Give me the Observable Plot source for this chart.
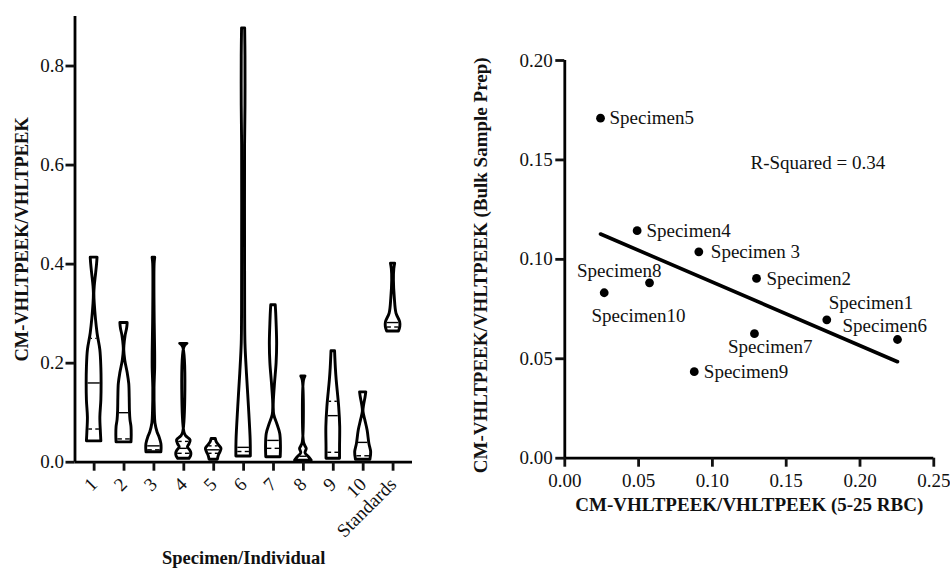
<!DOCTYPE html>
<html>
<head>
<meta charset="utf-8">
<script src="https://cdn.jsdelivr.net/npm/d3@7"></script>
<script src="https://cdn.jsdelivr.net/npm/@observablehq/plot@0.6"></script>
<style>
  html, body { margin: 0; padding: 0; background: #fff; }
  #wrap { position: relative; width: 950px; height: 572px; background: #fff; overflow: hidden;
          font-family: "Liberation Serif", "Times New Roman", Times, serif; }
  #left, #right { position: absolute; top: 0; }
  #left { left: 0; }
  #right { left: 470px; }
  #wrap svg text { font-family: "Liberation Serif", "Times New Roman", Times, serif !important; }
  #wrap svg g[aria-label$="-axis tick"] { stroke-width: 2.8px; }
</style>
</head>
<body>
<div id="wrap"><div id="left"></div><div id="right"></div></div>
<script>
// ---------------- LEFT PANEL DATA (violin plot) ----------------
const categories = ["1", "2", "3", "4", "5", "6", "7", "8", "9", "10", "Standards"];

// Each violin: [value, relative density (1 = widest)]
const violin1 = [[0.413,0.44],[0.40,0.38],[0.38,0.25],[0.355,0.08],[0.34,0.03],[0.32,0.08],[0.26,0.44],[0.226,0.8],[0.19,0.93],[0.16,0.96],[0.125,0.93],[0.09,0.8],[0.06,0.87],[0.042,0.93]];
const violin2 = [[0.281,0.47],[0.27,0.4],[0.255,0.2],[0.235,0.05],[0.226,0.03],[0.205,0.16],[0.18,0.47],[0.158,0.67],[0.13,0.73],[0.104,0.76],[0.085,0.83],[0.071,0.96],[0.055,0.99],[0.040,0.96]];
const violin3 = [[0.413,0.17],[0.40,0.09],[0.30,0.09],[0.22,0.16],[0.19,0.16],[0.15,0.08],[0.10,0.12],[0.078,0.2],[0.06,0.47],[0.05,0.73],[0.037,0.96],[0.028,0.99],[0.020,0.96]];
const violin4 = [[0.239,0.47],[0.232,0.08],[0.06,0.08],[0.052,0.33],[0.044,0.87],[0.036,0.73],[0.030,0.53],[0.024,0.8],[0.018,0.97],[0.012,0.93],[0.007,0.73]];
const violin5 = [[0.047,0.27],[0.040,0.4],[0.033,0.73],[0.027,1.0],[0.020,0.87],[0.0135,0.67],[0.005,0.53]];
const violin6 = [[0.876,0.2],[0.82,0.24],[0.72,0.24],[0.64,0.19],[0.40,0.19],[0.30,0.2],[0.239,0.24],[0.179,0.43],[0.111,0.69],[0.044,0.91],[0.0115,0.93]];
const violin7 = [[0.317,0.29],[0.30,0.35],[0.28,0.4],[0.239,0.47],[0.20,0.4],[0.16,0.2],[0.125,0.05],[0.111,0.03],[0.095,0.1],[0.075,0.53],[0.057,0.87],[0.030,0.96],[0.010,0.93]];
const violin8 = [[0.173,0.27],[0.165,0.08],[0.04,0.08],[0.032,0.27],[0.027,0.43],[0.018,0.27],[0.010,0.73],[0.003,1.07]];
const violin9 = [[0.224,0.23],[0.19,0.33],[0.165,0.44],[0.111,0.76],[0.071,0.89],[0.030,0.87],[0.007,0.87]];
const violin10 = [[0.141,0.4],[0.13,0.3],[0.115,0.12],[0.102,0.04],[0.085,0.27],[0.064,0.57],[0.037,0.8],[0.020,1.03],[0.005,0.93]];
const violinStd = [[0.401,0.27],[0.39,0.16],[0.367,0.11],[0.330,0.23],[0.300,0.44],[0.283,0.91],[0.273,0.93],[0.264,0.76]];
const violins = [violin1, violin2, violin3, violin4, violin5, violin6, violin7, violin8, violin9, violin10, violinStd];

const lowerQuartiles = [0.067, 0.047, 0.025, 0.018, 0.018, 0.0216, 0.028, 0.005, 0.020, 0.013, 0.273];
const medians        = [0.160, 0.100, 0.033, 0.028, 0.025, 0.030, 0.044, 0.012, 0.094, 0.040, 0.282];
const upperQuartiles = [0.250, 0.205, 0.200, 0.042, 0.033, 0.230, 0.239, 0.020, 0.123, 0.115, 0.330];
const leftYTicks = [0, 0.2, 0.4, 0.6, 0.8];

// ---------------- RIGHT PANEL DATA (scatter) ----------------
const specimenNames = ["Specimen1","Specimen2","Specimen 3","Specimen4","Specimen5","Specimen6","Specimen7","Specimen8","Specimen9","Specimen10"];
const rbcX  = [0.1775, 0.1299, 0.0908, 0.0490, 0.0242, 0.2254, 0.1285, 0.0267, 0.0877, 0.0574];
const bulkY = [0.0696, 0.0904, 0.1038, 0.1144, 0.1710, 0.0597, 0.0626, 0.0832, 0.0435, 0.0882];
const rightTicks = { x: [0, 0.05, 0.10, 0.15, 0.20, 0.25], y: [0, 0.05, 0.10, 0.15, 0.20] };
const annotationPos = [0.1258, 0.1484];

// ---------------- STYLE ----------------
const FONT = "Liberation Serif, Times New Roman, Times, serif";
const HALF = 0.26;      // half-width (x units) of density 1
const labelPlacement = [
  {anchor: "start",  dx: 2,     dy: -16.6},
  {anchor: "start",  dx: 10,    dy: 0},
  {anchor: "start",  dx: 12,    dy: 0},
  {anchor: "start",  dx: 9.3,   dy: 0},
  {anchor: "start",  dx: 9,     dy: 0},
  {anchor: "middle", dx: -12.8, dy: -13.3},
  {anchor: "middle", dx: 15.8,  dy: 12.7},
  {anchor: "middle", dx: 15,    dy: -21.6},
  {anchor: "start",  dx: 9.6,   dy: 0},
  {anchor: "middle", dx: -11,   dy: 32.7}
];

// ---------------- LEFT PANEL ----------------
const violinRows = violins.flatMap((prof, i) =>
  prof.map(([v, d]) => ({cat: i + 1, v, d})).sort((a, b) => a.v - b.v));

function densityAt(i, v) {
  const p = violins[i].slice().sort((a, b) => a[0] - b[0]);
  if (v <= p[0][0]) return p[0][1];
  for (let k = 1; k < p.length; k++) {
    if (v <= p[k][0]) {
      const t = (v - p[k-1][0]) / (p[k][0] - p[k-1][0]);
      return p[k-1][1] + t * (p[k][1] - p[k-1][1]);
    }
  }
  return p[p.length - 1][1];
}
const INSET = 0.045, GAP = 0.055;
const medianRows = medians.map((v, i) => ({cat: i + 1, v, w: densityAt(i, v) * HALF - INSET}))
  .filter(r => r.w > 0.02);
const quartileRows = [];
[lowerQuartiles, upperQuartiles].forEach(arr => arr.forEach((v, i) => {
  const w = densityAt(i, v) * HALF - INSET;
  if (w > GAP + 0.03) {
    quartileRows.push({v, x1: i + 1 - w, x2: i + 1 - GAP});
    quartileRows.push({v, x1: i + 1 + GAP, x2: i + 1 + w});
  }
}));

const leftPlot = Plot.plot({
  width: 440, height: 572,
  marginLeft: 74.5, marginRight: 28, marginTop: 16, marginBottom: 110.3,
  style: {fontFamily: FONT, fontSize: "19px", color: "#111", background: "white"},
  x: {domain: [0.36, 11.65], axis: null},
  y: {domain: [0, 0.9], axis: null},
  marks: [
    Plot.areaX(violinRows, {
      y: "v", x1: r => r.cat - r.d * HALF, x2: r => r.cat + r.d * HALF, z: "cat",
      curve: "catmull-rom", fill: "white", stroke: "black", strokeWidth: 2.9, strokeLinejoin: "round"
    }),
    Plot.ruleY(medianRows, {y: "v", x1: r => r.cat - r.w, x2: r => r.cat + r.w, stroke: "black", strokeWidth: 1.4}),
    Plot.ruleY(quartileRows, {y: "v", x1: "x1", x2: "x2", stroke: "black", strokeWidth: 1.4}),
    Plot.ruleY([0], {stroke: "black", strokeWidth: 2.8}),
    Plot.ruleX([0.36], {stroke: "black", strokeWidth: 2.8}),
    Plot.axisY({ticks: leftYTicks, tickFormat: d3.format(".1f"), tickSize: 9, tickPadding: 2,
      strokeWidth: 2.8, label: null, fontSize: 19, fontFamily: FONT}),
    Plot.axisX({ticks: d3.range(1, categories.length + 1), tickFormat: i => categories[i - 1],
      tickSize: 9, tickPadding: 10, tickRotate: -45, strokeWidth: 2.8, label: null, fontSize: 19, fontFamily: FONT}),
    Plot.text(["CM-VHLTPEEK/VHLTPEEK"], {frameAnchor: "left", dx: -53, rotate: -90,
      textAnchor: "middle", fontWeight: "bold", fontSize: 18.5, fontFamily: FONT}),
    Plot.text(["Specimen/Individual"], {frameAnchor: "bottom", dy: 101.3,
      textAnchor: "middle", fontWeight: "bold", fontSize: 18.5, fontFamily: FONT})
  ]
});
document.getElementById("left").appendChild(leftPlot);

// ---------------- RIGHT PANEL ----------------
const points = specimenNames.map((name, i) => ({name, x: rbcX[i], y: bulkY[i], i}));
const mx = d3.mean(rbcX), my = d3.mean(bulkY);
const sxy = d3.sum(rbcX, (x, i) => (x - mx) * (bulkY[i] - my));
const sxx = d3.sum(rbcX, x => (x - mx) ** 2);
const syy = d3.sum(bulkY, y => (y - my) ** 2);
const r2 = (sxy * sxy) / (sxx * syy);

const rightPlot = Plot.plot({
  width: 480, height: 572,
  marginLeft: 94.3, marginRight: 16.7, marginTop: 60, marginBottom: 114.3,
  style: {fontFamily: FONT, fontSize: "19px", color: "#111", background: "white", overflow: "visible"},
  x: {domain: [0, 0.25], axis: null},
  y: {domain: [0, 0.2], axis: null},
  marks: [
    Plot.ruleY([0], {stroke: "black", strokeWidth: 2.8}),
    Plot.ruleX([0], {stroke: "black", strokeWidth: 2.8}),
    Plot.axisX({ticks: rightTicks.x, tickFormat: d3.format(".2f"), tickSize: 9, tickPadding: 6,
      strokeWidth: 2.8, label: null, fontSize: 19, fontFamily: FONT}),
    Plot.axisY({ticks: rightTicks.y, tickFormat: d3.format(".2f"), tickSize: 9, tickPadding: 3,
      strokeWidth: 2.8, label: null, fontSize: 19, fontFamily: FONT}),
    Plot.linearRegressionY(points, {x: "x", y: "y", ci: 0, stroke: "black", strokeWidth: 3.6}),
    Plot.dot(points, {x: "x", y: "y", r: 4.4, fill: "black", stroke: "none"}),
    ...points.map((p, i) => Plot.text([p], {x: "x", y: "y", text: "name",
      textAnchor: labelPlacement[i].anchor, dx: labelPlacement[i].dx, dy: labelPlacement[i].dy,
      fontSize: 19, fill: "#111", fontFamily: FONT})),
    Plot.text([`R-Squared = ${r2.toFixed(2)}`], {x: () => annotationPos[0], y: () => annotationPos[1],
      textAnchor: "start", fontSize: 19, fill: "#111", fontFamily: FONT}),
    Plot.text(["CM-VHLTPEEK/VHLTPEEK (Bulk Sample Prep)"], {frameAnchor: "left", dx: -84, dy: 6, rotate: -90,
      textAnchor: "middle", fontWeight: "bold", fontSize: 19, fontFamily: FONT}),
    Plot.text(["CM-VHLTPEEK/VHLTPEEK (5-25 RBC)"], {frameAnchor: "bottom", dy: 52.3,
      textAnchor: "middle", fontWeight: "bold", fontSize: 19, fontFamily: FONT})
  ]
});
document.getElementById("right").appendChild(rightPlot);
</script>
</body>
</html>
